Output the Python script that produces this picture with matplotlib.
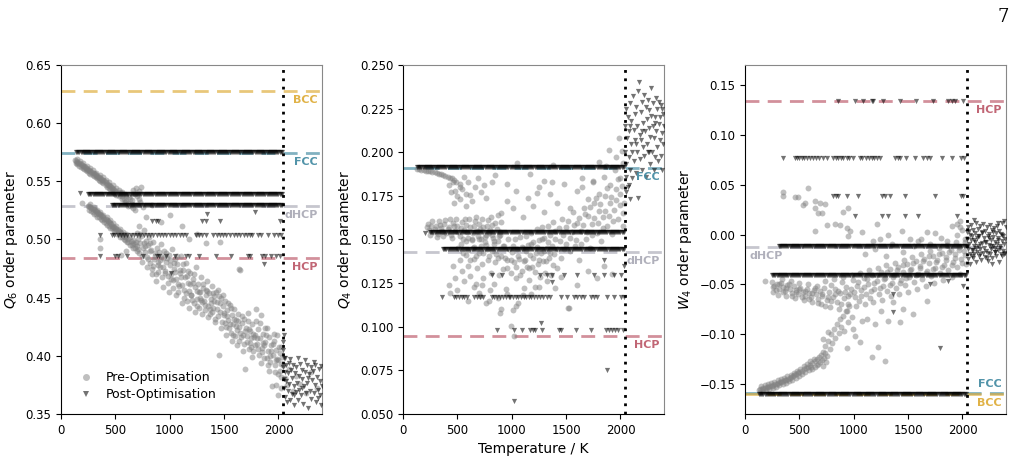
import matplotlib
matplotlib.use("Agg")
import matplotlib.pyplot as plt
from matplotlib.lines import Line2D

# ---------------- DATA ----------------
T_MELT = 2040

# common temperature grid for densely populated post-optimisation bands
t_grid = [130, 140, 150, 160, 170, 180, 190, 200, 210, 220, 230, 240, 250, 260, 270, 280, 290,
          300, 310, 320, 330, 340, 350, 360, 370, 380, 390, 400, 410, 420, 430, 440, 450, 460,
          470, 480, 490, 500, 510, 520, 530, 540, 550, 560, 570, 580, 590, 600, 610, 620, 630,
          640, 650, 660, 670, 680, 690, 700, 710, 720, 730, 740, 750, 760, 770, 780, 790, 800,
          810, 820, 830, 840, 850, 860, 870, 880, 890, 900, 910, 920, 930, 940, 950, 960, 970,
          980, 990, 1000, 1010, 1020, 1030, 1040, 1050, 1060, 1070, 1080, 1090, 1100, 1110,
          1120, 1130, 1140, 1150, 1160, 1170, 1180, 1190, 1200, 1210, 1220, 1230, 1240, 1250,
          1260, 1270, 1280, 1290, 1300, 1310, 1320, 1330, 1340, 1350, 1360, 1370, 1380, 1390,
          1400, 1410, 1420, 1430, 1440, 1450, 1460, 1470, 1480, 1490, 1500, 1510, 1520, 1530,
          1540, 1550, 1560, 1570, 1580, 1590, 1600, 1610, 1620, 1630, 1640, 1650, 1660, 1670,
          1680, 1690, 1700, 1710, 1720, 1730, 1740, 1750, 1760, 1770, 1780, 1790, 1800, 1810,
          1820, 1830, 1840, 1850, 1860, 1870, 1880, 1890, 1900, 1910, 1920, 1930, 1940, 1950,
          1960, 1970, 1980, 1990, 2000, 2010, 2020, 2030]

# ---- Q6 ----
q6_ref = {"BCC": 0.628, "FCC": 0.5745, "dHCP": 0.529, "HCP": 0.4845}
q6_dense_bands = [(0.5755, 140), (0.539, 250), (0.530, 470)]  # (level, first temperature)
q6_band_504_T = [357, 466, 490, 520, 550, 580, 610, 640, 670, 700, 724, 760, 790, 820, 850, 880,
                 910, 940, 970, 1000, 1030, 1060, 1090, 1120, 1150, 1240, 1270, 1300, 1335, 1400,
                 1430, 1460, 1490, 1520, 1550, 1590, 1620, 1650, 1680, 1710, 1740, 1760, 1810,
                 1840, 1900, 1960, 2000, 2025]
q6_band_486_T = [357, 495, 520, 604, 751, 879, 900, 970, 1045, 1153, 1180, 1273, 1427, 1566, 1715,
                 1740, 1850, 1880, 1930, 1978, 2010]
q6_post_misc = [(174, 0.540), (833, 0.5155), (870, 0.5155), (890, 0.5155), (1300, 0.5155),
                (1330, 0.5155), (1460, 0.5155), (1340, 0.522), (1780, 0.524), (2010, 0.5155),
                (1868, 0.479), (1015, 0.471)]
q6_post_liquid = [(2040, .412), (2045, .405), (2050, .418), (2055, .398), (2042, .390), (2048, .380),
                  (2052, .372), (2058, .386), (2062, .365), (2068, .392), (2072, .378), (2078, .360),
                  (2085, .385), (2090, .370), (2095, .394), (2100, .376), (2108, .362), (2115, .388),
                  (2120, .381), (2125, .367), (2132, .392), (2138, .374), (2145, .358), (2150, .385),
                  (2158, .369), (2165, .390), (2170, .377), (2178, .362), (2185, .383), (2190, .371),
                  (2198, .393), (2205, .366), (2212, .380), (2220, .388), (2228, .359), (2235, .374),
                  (2242, .386), (2250, .368), (2258, .392), (2265, .377), (2272, .355), (2280, .384),
                  (2288, .370), (2295, .390), (2302, .363), (2310, .379), (2318, .387), (2325, .368),
                  (2332, .375), (2340, .392), (2348, .360), (2355, .382), (2362, .371), (2370, .389),
                  (2378, .366), (2385, .378), (2392, .358), (2398, .374), (2060, .398), (2110, .397),
                  (2180, .398), (2240, .396), (2330, .395), (2390, .391), (2140, .366), (2215, .372),
                  (2275, .381), (2360, .364)]
q6_pre_upper = [(130, .568), (140, .5675), (150, .567), (160, .566), (170, .5655), (180, .565),
                (190, .564), (200, .5635), (210, .563), (220, .562), (230, .5615), (240, .561),
                (250, .560), (260, .5595), (270, .559), (280, .558), (290, .5575), (300, .557),
                (310, .556), (320, .5555), (330, .555), (340, .554), (350, .5535), (360, .553),
                (370, .552), (380, .5515), (390, .551), (400, .550), (410, .549), (420, .548),
                (430, .547), (440, .5465), (450, .546), (460, .545), (470, .544), (480, .543),
                (490, .5425), (500, .542), (520, .540), (540, .5385), (560, .537), (580, .535),
                (600, .533), (620, .531), (640, .529), (660, .527), (680, .525),
                (150, .5645), (180, .5625), (210, .561), (240, .5585), (270, .5565), (300, .5545),
                (330, .5525), (360, .5505), (390, .5485), (420, .5455), (450, .5435), (480, .5405),
                (510, .5385), (540, .541), (570, .5395), (600, .5375), (630, .535), (660, .5425),
                (690, .5445), (720, .5415), (700, .537), (730, .532), (750, .528),
                (140, .5655), (170, .5635), (200, .5615), (230, .5595), (260, .5575), (290, .5555),
                (320, .5535), (350, .5515), (380, .549), (410, .547), (440, .5445), (470, .542),
                (500, .5395), (530, .537), (560, .5345), (590, .532), (620, .5285), (650, .5305),
                (145, .5695), (175, .5675), (205, .5655), (235, .5635), (265, .5615), (295, .5595),
                (325, .5575), (355, .5555), (385, .5535), (415, .5515), (445, .549), (475, .547),
                (505, .5445), (535, .5425), (565, .5405), (595, .5385), (625, .5365), (655, .534),
                (685, .5395), (715, .5345), (740, .545)]
q6_pre_lower = [(250, .529), (260, .5285), (270, .528), (280, .527), (290, .5265), (300, .526),
                (310, .525), (320, .5245), (330, .524), (340, .523), (350, .522), (360, .5215),
                (370, .521), (380, .520), (390, .519), (400, .518), (410, .5175), (420, .517),
                (430, .516), (440, .515), (450, .514), (460, .513), (470, .512), (480, .511),
                (490, .5105), (500, .510), (510, .509), (520, .508), (530, .507), (540, .5065),
                (550, .506), (560, .505), (570, .504), (580, .503), (590, .5025), (600, .502),
                (620, .500), (640, .499), (660, .497), (680, .496), (700, .494),
                (260, .5255), (290, .5235), (320, .5215), (350, .519), (380, .517), (410, .5145),
                (440, .512), (470, .5095), (500, .507), (530, .5045), (560, .502), (590, .4995),
                (620, .4975), (650, .495), (680, .493), (190, .531), (360, .500), (355, .493),
                (550, .487), (600, .490),
                (270, .5305), (300, .528), (330, .5255), (360, .5235), (390, .521), (420, .519),
                (450, .5165), (480, .514), (510, .5115), (540, .509), (570, .5065), (600, .5045),
                (630, .502), (660, .4995), (690, .4975), (275, .5245), (305, .522), (335, .5195),
                (365, .5175), (395, .515), (425, .5125), (455, .510), (485, .5075), (515, .505),
                (545, .5025), (575, .500), (605, .4975), (635, .495), (665, .4925), (695, .490)]
q6_pre_cloud = [(700, .506), (710, .500), (720, .512), (730, .497), (740, .503), (750, .493),
                (760, .508), (770, .489), (780, .499), (790, .485), (800, .495), (810, .502),
                (820, .480), (830, .491), (840, .475), (850, .498), (860, .486), (870, .470),
                (880, .493), (890, .481), (900, .489), (910, .476), (920, .496), (930, .468),
                (940, .484), (950, .490), (960, .473), (970, .481), (980, .463), (990, .487),
                (1000, .478), (1010, .470), (1020, .492), (1030, .458), (1040, .475), (1050, .483),
                (1060, .466), (1070, .479), (1080, .455), (1090, .471), (1100, .486), (1110, .461),
                (1120, .474), (1130, .450), (1140, .468), (1150, .480), (1160, .447), (1170, .463),
                (1180, .456), (1190, .471), (1200, .452), (1210, .466), (1220, .445), (1230, .459),
                (1240, .476), (1250, .449), (1260, .462), (1270, .441), (1280, .455), (1290, .468),
                (1300, .446), (1310, .458), (1320, .439), (1330, .452), (1340, .464), (1350, .443),
                (1360, .454), (1370, .436), (1380, .449), (1390, .460), (1400, .441), (1410, .451),
                (1420, .432), (1430, .446), (1440, .457), (1450, .401), (1460, .438), (1470, .450),
                (1480, .429), (1490, .443), (1500, .435), (1510, .447), (1520, .425), (1530, .439),
                (1540, .431), (1550, .444), (1560, .420), (1570, .435), (1580, .427), (1590, .440),
                (1600, .417), (1610, .431), (1620, .422), (1630, .436), (1640, .413), (1650, .474),
                (1660, .428), (1670, .418), (1680, .432), (1690, .389), (1700, .424), (1710, .412),
                (1720, .430), (1730, .406), (1740, .421), (1750, .415), (1760, .427), (1770, .404),
                (1780, .418), (1790, .440), (1800, .410), (1810, .423), (1820, .401), (1830, .415),
                (1840, .435), (1850, .407), (1860, .419), (1870, .398), (1880, .412), (1890, .424),
                (1900, .404), (1910, .416), (1920, .395), (1930, .409), (1940, .374), (1950, .401),
                (1960, .413), (1970, .392), (1980, .405), (1990, .418), (2000, .396), (2010, .387),
                (2020, .408), (2030, .399),
                (720, .488), (745, .481), (765, .497), (790, .476), (815, .490), (835, .470),
                (855, .483), (875, .464), (895, .478), (915, .486), (935, .459), (955, .471),
                (975, .484), (995, .455), (1015, .466), (1035, .480), (1055, .452), (1075, .462),
                (1095, .474), (1115, .445), (1135, .457), (1155, .469), (1175, .441), (1195, .452),
                (1215, .463), (1235, .438), (1255, .456), (1275, .450), (1295, .436), (1315, .447),
                (1335, .457), (1355, .433), (1375, .445), (1395, .454), (1415, .429), (1435, .440),
                (1455, .451), (1475, .424), (1495, .437), (1515, .418), (1535, .445), (1555, .427),
                (1575, .413), (1595, .432), (1615, .409), (1635, .425), (1655, .416), (1675, .404),
                (1695, .421), (1715, .437), (1735, .411), (1755, .399), (1775, .416), (1795, .430),
                (1815, .406), (1835, .394), (1855, .411), (1875, .424), (1895, .398), (1915, .387),
                (1935, .404), (1955, .419), (1975, .396), (1995, .384), (2015, .402), (2025, .393),
                (840, .530), (1000, .521), (1110, .512), (1250, .505), (1335, .497), (1460, .498),
                (1640, .475), (920, .515), (1180, .500), (780, .519),
                (705, .492), (725, .505), (748, .486), (772, .494), (798, .483), (822, .497),
                (846, .477), (868, .488), (892, .472), (912, .482), (938, .476), (962, .488),
                (984, .469), (1006, .482), (1028, .465), (1046, .472), (1068, .486), (1088, .460),
                (1106, .468), (1126, .479), (1146, .454), (1166, .473), (1186, .462), (1206, .448),
                (1226, .470), (1246, .443), (1266, .455), (1286, .448), (1306, .462), (1326, .444),
                (1346, .456), (1366, .440), (1386, .438), (1406, .447), (1426, .455), (1446, .434),
                (1466, .445), (1486, .452), (1506, .428), (1526, .434), (1546, .424), (1566, .441),
                (1586, .418), (1606, .426), (1626, .430), (1646, .420), (1666, .434), (1686, .410),
                (1706, .417), (1726, .423), (1746, .408), (1766, .419), (1786, .409), (1806, .415),
                (1826, .428), (1846, .403), (1866, .409), (1886, .418), (1906, .392), (1926, .400),
                (1946, .410), (1966, .386), (1986, .397), (2006, .408), (2026, .382), (1980, .375),
                (2020, .372), (2000, .366)]
q6_pre_liquid = [(2045, .392), (2060, .381), (2080, .375), (2100, .389), (2130, .370), (2160, .383),
                 (2200, .376), (2250, .368), (2300, .386), (2350, .372)]

# ---- Q4 ----
q4_ref = {"FCC": 0.191, "dHCP": 0.143, "HCP": 0.0945}
q4_dense_bands = [(0.1915, 130), (0.1545, 250), (0.1445, 370)]
q4_band_130_T = [818, 910, 1264, 1326, 1372, 1480, 1603, 1757, 1850, 1942, 2004]
q4_band_117_T = [357, 465, 490, 515, 540, 565, 586, 650, 680, 710, 740, 817, 840, 865, 890, 915,
                 945, 971, 987, 1010, 1035, 1060, 1085, 1110, 1135, 1160, 1180, 1202, 1233, 1260,
                 1290, 1320, 1356, 1449, 1511, 1572, 1600, 1635, 1665, 1727, 1760, 1788, 1880,
                 1942, 2004, 2030]
q4_band_098_T = [865, 1017, 1095, 1172, 1195, 1218, 1280, 1434, 1450, 1588, 1727, 1866, 1890,
                 1920, 1950, 1973, 2020]
q4_post_misc = [(200, 0.1535), (1372, 0.1256), (1850, 0.138), (2030, 0.135), (1272, 0.102),
                (1880, 0.0752), (1017, 0.0575)]
q4_post_liquid = [(2040, .215), (2045, .200), (2048, .186), (2050, .225), (2055, .193), (2060, .208),
                  (2065, .180), (2070, .220), (2075, .197), (2080, .212), (2085, .228), (2090, .190),
                  (2095, .205), (2100, .218), (2105, .185), (2110, .200), (2115, .232), (2120, .213),
                  (2125, .195), (2130, .222), (2135, .207), (2140, .188), (2145, .226), (2150, .215),
                  (2155, .200), (2160, .174), (2165, .235), (2170, .240), (2175, .210), (2180, .196),
                  (2185, .223), (2190, .207), (2195, .229), (2200, .190), (2205, .217), (2210, .203),
                  (2215, .233), (2220, .198), (2225, .212), (2230, .226), (2235, .186), (2240, .219),
                  (2245, .205), (2250, .230), (2255, .200), (2260, .214), (2265, .224), (2270, .193),
                  (2275, .209), (2280, .221), (2285, .237), (2290, .200), (2295, .215), (2300, .228),
                  (2305, .190), (2310, .208), (2315, .220), (2320, .197), (2325, .231), (2330, .212),
                  (2335, .203), (2340, .225), (2345, .195), (2350, .216), (2355, .229), (2360, .207),
                  (2365, .220), (2370, .198), (2375, .227), (2380, .211), (2385, .190), (2390, .222),
                  (2395, .205), (2398, .215), (2090, .215), (2140, .205), (2200, .212), (2260, .200),
                  (2320, .217), (2380, .225), (2055, .177), (2075, .181), (2085, .173)]
q4_pre_upper = [(130, .1905), (150, .1903), (170, .1900), (190, .1898), (210, .1895), (230, .1893),
                (250, .1890), (270, .1888), (290, .1885), (310, .1880), (330, .1878), (350, .1875),
                (370, .1870), (390, .1865), (410, .1860), (430, .1855), (450, .1850), (470, .1840),
                (490, .1830), (420, .181), (440, .177), (460, .183), (480, .178), (500, .175),
                (520, .182), (540, .179), (560, .186), (580, .176), (600, .183), (630, .172),
                (660, .180), (690, .185), (720, .177), (760, .174), (520, .173), (580, .169),
                (470, .171), (524, .180), (617, .1755), (743, .181), (815, .183), (955, .182),
                (1048, .194), (850, .187)]
q4_pre_lower = [(220, .157), (240, .1555), (260, .158), (280, .1545), (300, .1575), (320, .153),
                (340, .1585), (360, .155), (380, .159), (400, .1535), (420, .157), (440, .1525),
                (460, .1595), (480, .155), (500, .158), (520, .152), (540, .160), (560, .1555),
                (580, .1585), (600, .151), (620, .157), (640, .1535), (660, .1605), (680, .155),
                (700, .159), (720, .150), (740, .157), (760, .1525), (780, .161), (800, .1555),
                (820, .1585), (840, .149), (860, .156), (880, .152), (900, .160),
                (230, .159), (250, .1525), (270, .1605), (290, .156), (310, .1515), (330, .1605),
                (350, .1565), (370, .152), (390, .161), (410, .156), (430, .1615), (450, .151),
                (470, .1575), (490, .162), (510, .1545), (530, .1565), (550, .1505), (570, .162),
                (590, .1545), (610, .1615), (630, .1495), (650, .158), (670, .163), (690, .152),
                (710, .156), (730, .162), (750, .1485), (770, .158), (790, .1535), (810, .163),
                (830, .151), (850, .1595), (870, .164), (890, .1545)]
q4_pre_cloud = [(420, .124), (430, .1195), (460, .135), (480, .128), (500, .121), (520, .138),
                (540, .132), (560, .126), (580, .141), (600, .135), (620, .129), (640, .145),
                (650, .139), (670, .1245), (680, .1335), (700, .142), (710, .1175), (730, .136),
                (740, .128), (760, .147), (780, .1385), (790, .1145), (810, .131), (820, .1435),
                (840, .1245), (850, .137), (870, .149), (880, .1295), (890, .108), (900, .1405),
                (920, .133), (930, .146), (950, .1215), (960, .138), (970, .1505), (990, .131),
                (1000, .143), (1010, .1095), (1020, .137), (1030, .1505), (1040, .128), (1050, .1445),
                (1060, .1135), (1070, .139), (1080, .1515), (1090, .132), (1100, .145), (1110, .122),
                (1120, .1385), (1130, .152), (1140, .134), (1150, .147), (1160, .1265), (1170, .141),
                (1180, .154), (1190, .1345), (1200, .1485), (1210, .123), (1220, .142), (1230, .156),
                (1240, .136), (1250, .1495), (1260, .1285), (1270, .1425), (1280, .157), (1290, .1375),
                (1300, .151), (1310, .131), (1320, .145), (1330, .158), (1340, .1395), (1350, .1525),
                (1360, .1295), (1370, .1465), (1380, .160), (1390, .1415), (1400, .155), (1420, .1335),
                (1440, .149), (1460, .162), (1480, .1445), (1500, .157), (1520, .1105), (1540, .151),
                (1560, .1655), (1580, .1465), (1600, .1595), (1620, .1385), (1640, .155), (1660, .168),
                (1680, .1505), (1700, .1635), (1720, .145), (1740, .159), (1760, .171), (1780, .154),
                (1800, .1665), (1820, .149), (1840, .163), (1860, .175), (1880, .158), (1900, .171),
                (1920, .153), (1940, .167), (1960, .179), (1980, .162), (2000, .176), (2020, .1575),
                (2030, .171),
                (900, .165), (960, .172), (1010, .168), (1040, .178), (1100, .163), (1150, .174),
                (1200, .169), (1250, .180), (1300, .166), (1350, .176), (1420, .171), (1480, .182),
                (1540, .168), (1600, .178), (1650, .185), (1700, .173), (1750, .183), (1800, .176),
                (1850, .186), (1900, .181), (1950, .190), (2000, .185), (1870, .192), (1960, .197),
                (2010, .201), (1990, .208), (2020, .194), (1805, .1945), (1893, .2013), (1650, .180),
                (1745, .1835), (1170, .1876), (1233, .1765), (1295, .1835), (1372, .183), (1380, .1926),
                (600, .115), (650, .1225), (700, .1195), (730, .124), (760, .1135), (800, .121),
                (870, .1165), (900, .110), (960, .119), (995, .1005), (1020, .0948), (1040, .112),
                (1100, .118), (1180, .1185), (1250, .1225), (1320, .126), (1400, .122), (1450, .1285),
                (1530, .111), (1600, .124), (1700, .132), (1780, .128), (1850, .135), (1920, .1305),
                (510, .145), (530, .1475), (555, .1425), (575, .149), (595, .144), (615, .1385),
                (635, .1505), (655, .1455), (675, .1405), (695, .1505), (715, .1465), (735, .1425),
                (755, .1515), (775, .1445), (795, .1405), (815, .1525), (835, .1475), (855, .1415),
                (875, .1395), (895, .1525), (915, .1465), (935, .1395), (955, .1335), (975, .1445),
                (995, .1385), (1015, .1465), (1035, .1345), (1055, .1405), (1075, .1295), (1095, .1455),
                (1115, .1375), (1135, .1435), (1155, .1335), (1175, .1475), (1195, .1395), (1215, .1315),
                (1235, .1455), (1255, .1385), (1275, .1505), (1295, .1435), (1315, .1375), (1335, .1485),
                (1355, .1425), (1375, .1355), (1395, .1505), (1415, .1445), (1435, .1565), (1455, .1395),
                (1475, .1525), (1495, .1475), (1515, .1605), (1535, .1435), (1555, .1545), (1575, .1585),
                (1595, .1495), (1615, .1625), (1635, .1475), (1655, .1585), (1675, .1645), (1695, .1545),
                (1715, .1685), (1735, .1525), (1755, .1625), (1775, .1735), (1795, .1595), (1815, .1705),
                (1835, .1565), (1855, .1665), (1875, .1795), (1895, .1635), (1915, .1745), (1935, .1605),
                (1955, .1725), (1975, .1845), (1995, .1695), (2015, .1805), (2025, .165)]

# ---- W4 ----
w4_ref = {"HCP": 0.134, "dHCP": -0.0125, "FCC": -0.159, "BCC": -0.1595}
w4_dense_bands = [(-0.0117, 310), (-0.041, 245), (-0.160, 130)]
w4_band_134_T = [857, 1011, 1087, 1164, 1179, 1271, 1424, 1577, 1730, 1868, 1899, 1929, 2006]
w4_band_076_T = [352, 459, 480, 500, 525, 545, 570, 600, 628, 650, 680, 720, 750, 811, 835, 857,
                 880, 905, 934, 960, 995, 1056, 1080, 1110, 1140, 1164, 1190, 1215, 1240, 1378,
                 1410, 1424, 1485, 1562, 1638, 1670, 1700, 1807, 1899, 1990, 2010]
w4_band_038_T = [811, 840, 857, 934, 1041, 1256, 1290, 1332, 1470, 1745, 1990, 2006]
w4_band_018_T = [1011, 1256, 1317, 1470, 1592, 1945]
w4_post_misc = [(1868, -0.0467), (1363, -0.060), (1363, -0.078), (1791, -0.114), (1700, -0.050),
                (2006, -0.052)]
w4_post_liquid = [(2040, -.005), (2045, .003), (2048, -.015), (2052, -.025), (2055, .008), (2060, -.010),
                  (2065, -.020), (2068, .000), (2072, -.030), (2076, -.006), (2080, .010), (2085, -.016),
                  (2090, -.002), (2094, -.024), (2098, .005), (2102, -.012), (2108, -.020), (2112, .002),
                  (2116, -.008), (2120, -.028), (2125, .012), (2130, -.004), (2135, -.018), (2140, .006),
                  (2145, -.012), (2150, -.022), (2155, -.001), (2160, .009), (2165, -.015), (2170, -.026),
                  (2175, .003), (2180, -.009), (2185, -.019), (2190, .011), (2195, -.004), (2200, -.014),
                  (2205, -.023), (2210, .004), (2215, -.008), (2220, -.017), (2225, .008), (2230, -.002),
                  (2235, -.027), (2240, -.011), (2245, .001), (2250, -.020), (2255, .010), (2260, -.006),
                  (2265, -.015), (2270, .005), (2275, -.024), (2280, -.003), (2285, -.012), (2290, .007),
                  (2295, -.018), (2300, -.008), (2305, .002), (2310, -.022), (2315, -.010), (2320, .009),
                  (2325, -.016), (2330, -.004), (2335, -.028), (2340, .004), (2345, -.012), (2350, -.020),
                  (2355, .001), (2360, -.007), (2365, .012), (2370, -.017), (2375, -.002), (2380, -.010),
                  (2385, .014), (2390, -.005), (2395, -.019), (2398, .008), (2100, -.016), (2160, -.010),
                  (2230, -.019), (2300, -.014), (2360, -.022), (2110, .015), (2270, -.030), (2330, .012),
                  (2043, -.012), (2063, .004), (2083, -.022), (2103, -.006), (2123, -.014), (2143, -.002),
                  (2163, -.020), (2183, .002), (2203, -.008), (2223, -.024), (2243, -.004), (2263, -.012),
                  (2283, .003), (2303, -.018), (2323, -.006), (2343, -.014), (2363, .000), (2383, -.020)]
w4_pre_lower = [(125, -.1555), (140, -.155), (155, -.1545), (170, -.154), (185, -.1535), (200, -.153),
                (215, -.1525), (230, -.152), (245, -.1515), (260, -.151), (275, -.150), (290, -.1495),
                (305, -.149), (320, -.148), (335, -.1475), (350, -.147), (365, -.146), (380, -.1455),
                (395, -.145), (410, -.144), (425, -.143), (440, -.142), (455, -.141), (470, -.140),
                (485, -.139), (500, -.138), (520, -.137), (540, -.135), (560, -.134), (580, -.1325),
                (600, -.131), (620, -.129), (640, -.127), (660, -.125), (680, -.123), (700, -.121),
                (150, -.152), (180, -.151), (210, -.150), (240, -.149), (270, -.1475), (300, -.146),
                (330, -.145), (360, -.1435), (390, -.142), (420, -.1405), (450, -.139), (480, -.137),
                (510, -.1345), (540, -.132), (570, -.1295), (600, -.127), (630, -.1245), (660, -.1305),
                (690, -.128), (720, -.132), (610, -.133),
                (135, -.1575), (165, -.1565), (195, -.1555), (225, -.1545), (255, -.1535), (285, -.1525),
                (315, -.151), (345, -.150), (375, -.1485), (405, -.147), (435, -.1455), (465, -.1435),
                (495, -.1415), (525, -.140), (555, -.1375), (585, -.136), (615, -.1345), (645, -.1325),
                (675, -.130), (705, -.126), (725, -.124), (745, -.128), (735, -.119),
                (720, -.118), (740, -.112), (750, -.122), (760, -.107), (780, -.115), (790, -.100),
                (800, -.109), (820, -.095), (830, -.104), (850, -.090), (860, -.099), (870, -.085),
                (880, -.093), (900, -.082), (910, -.097), (930, -.077), (950, -.088), (960, -.072),
                (980, -.083), (995, -.095), (1011, -.102), (1056, -.108), (1118, -.085), (1164, -.123),
                (1225, -.113), (1287, -.127), (934, -.114), (1317, -.087), (1424, -.088), (1547, -.080),
                (1669, -.0667), (1080, -.087), (1200, -.090), (1250, -.077), (1360, -.068),
                (1450, -.075), (720, -.105), (766, -.0977)]
w4_pre_upper = [(250, -.048), (270, -.052), (290, -.050), (310, -.055), (330, -.049), (350, -.053),
                (370, -.057), (390, -.051), (410, -.055), (430, -.059), (450, -.052), (470, -.056),
                (490, -.060), (510, -.054), (530, -.058), (550, -.062), (570, -.055), (590, -.059),
                (610, -.063), (630, -.056), (650, -.060), (670, -.065), (690, -.057), (710, -.062),
                (730, -.054), (750, -.066), (770, -.058), (790, -.051), (810, -.063), (830, -.055),
                (850, -.068), (870, -.059), (890, -.048), (910, -.064), (930, -.053), (950, -.070),
                (970, -.060), (990, -.046), (1010, -.063), (1030, -.052), (1050, -.067), (1070, -.056),
                (1090, -.044), (1110, -.060), (1130, -.050), (1150, -.064), (1170, -.041), (1190, -.055),
                (1210, -.047), (1230, -.060), (1250, -.038), (1270, -.052), (1290, -.044), (1310, -.057),
                (1330, -.035), (1350, -.049), (1370, -.041), (1390, -.054), (1410, -.033), (1430, -.046),
                (1450, -.038), (1470, -.051), (1490, -.030), (1510, -.043), (1530, -.035), (1550, -.048),
                (1570, -.027), (1590, -.040), (1610, -.032), (1630, -.045), (1650, -.025), (1670, -.037),
                (1690, -.029), (1710, -.042), (1730, -.022), (1750, -.034), (1770, -.026), (1790, -.039),
                (1810, -.019), (1830, -.031), (1850, -.023), (1870, -.036), (1890, -.016), (1910, -.028),
                (1930, -.020), (1950, -.033), (1970, -.013), (1990, -.025), (2010, -.017), (2030, -.030),
                (260, -.058), (300, -.061), (340, -.045), (380, -.062), (420, -.047), (460, -.064),
                (500, -.049), (540, -.066), (580, -.050), (620, -.068), (660, -.052), (700, -.070),
                (740, -.047), (780, -.073), (820, -.045), (860, -.075), (900, -.043), (940, -.077),
                (980, -.041), (1020, -.072), (1060, -.039), (1100, -.070), (1140, -.036), (1180, -.068),
                (1220, -.034), (1260, -.066), (1300, -.031), (1340, -.062), (1380, -.029), (1420, -.060),
                (1460, -.026), (1500, -.058), (1540, -.023), (1580, -.055), (1620, -.020), (1660, -.052),
                (1700, -.017), (1740, -.049), (1780, -.014), (1820, -.046), (1860, -.011), (1900, -.043),
                (1940, -.008), (1980, -.040), (2020, -.005), (184, -.047),
                (255, -.053), (285, -.056), (315, -.050), (345, -.058), (375, -.054), (405, -.050),
                (435, -.062), (465, -.058), (495, -.055), (525, -.063), (555, -.057), (585, -.065),
                (615, -.059), (645, -.054), (675, -.069), (705, -.060), (735, -.072), (765, -.063),
                (795, -.067), (825, -.060), (855, -.057), (885, -.070), (915, -.058), (945, -.062),
                (975, -.055), (1005, -.058), (1035, -.048), (1065, -.062), (1095, -.053), (1125, -.045),
                (1155, -.057), (1185, -.049), (1215, -.041), (1245, -.054), (1275, -.045), (1305, -.038),
                (1335, -.051), (1365, -.043), (1395, -.036), (1425, -.049), (1455, -.031), (1485, -.044),
                (1515, -.036), (1545, -.029), (1575, -.041), (1605, -.034), (1635, -.027), (1665, -.039),
                (1695, -.022), (1725, -.035), (1755, -.028), (1785, -.020), (1815, -.033), (1845, -.026),
                (1875, -.018), (1905, -.031), (1935, -.024), (1965, -.016), (1995, -.029), (2025, -.021)]
w4_pre_high = [(352, .043), (352, .0383), (459, .038), (490, .038), (582, .0467), (551, .032),
               (536, .030), (643, .0333), (689, .032), (643, .027), (674, .0217), (704, .022),
               (735, .031), (643, .0033), (750, .0097), (827, .011), (873, .0097), (904, .0227),
               (950, .027), (934, .0067), (965, .0033), (1072, .0023), (950, -.0017), (1210, .011),
               (1317, .000), (1179, -.0067), (1240, -.005), (1440, .0033), (1516, -.005), (1592, -.0067),
               (1669, .0023), (1745, .0017), (1899, .0083), (1945, .011), (1975, .0133), (1853, -.0067),
               (1100, -.020), (1200, -.015), (1300, -.022), (1350, -.010), (1450, -.018), (1550, -.012),
               (1620, -.005), (1700, -.010), (1800, -.004), (1880, -.012), (1950, .000), (2000, .005),
               (2020, -.008), (1980, .008)]

# ---------------- STYLE ----------------
REF_COLORS = {"BCC": "#DDAA33", "FCC": "#3F88A0", "dHCP": "#A8A8B4", "HCP": "#BB5566"}
PRE_KW = dict(marker="o", s=18, color="grey", alpha=0.5, linewidths=0)
POST_KW = dict(marker="v", s=14, color="black", alpha=0.55, linewidths=0)

plt.rcParams["font.family"] = ["DejaVu Sans"]
fig = plt.figure(figsize=(10.2, 4.61), dpi=100)
axes = [fig.add_axes([61 / 1020, 0.102, 261 / 1020, 0.757]),
        fig.add_axes([403 / 1020, 0.102, 261 / 1020, 0.757]),
        fig.add_axes([745 / 1020, 0.102, 261 / 1020, 0.757])]


def unzip(pairs):
    return [p[0] for p in pairs], [p[1] for p in pairs]


def draw_panel(ax, pre_sets, dense_bands, sparse_bands, post_sets):
    for pairs in pre_sets:
        x, y = unzip(pairs)
        ax.scatter(x, y, zorder=2, **PRE_KW)
    for level, start in dense_bands:
        xs = [t for t in t_grid if t >= start]
        ax.scatter(xs, [level] * len(xs), zorder=3, **POST_KW)
    for level, ts in sparse_bands:
        ax.scatter(ts, [level] * len(ts), zorder=3, **POST_KW)
    for pairs in post_sets:
        x, y = unzip(pairs)
        ax.scatter(x, y, zorder=3, **POST_KW)
    ax.axvline(T_MELT, color="black", linestyle=(0, (1, 2)), lw=2, zorder=4)
    ax.set_xlim(0, 2400)
    ax.set_xticks([0, 500, 1000, 1500, 2000])
    for side in ("top", "right"):
        ax.spines[side].set_color("#888888")
    ax.tick_params(labelsize=8.5)


def ref_line(ax, name, value, above=False, left=False):
    c = REF_COLORS[name]
    ax.axhline(value, color=c, linestyle=(0, (5, 3)), lw=2, alpha=0.65, zorder=1)
    if left:
        ax.annotate(name, xy=(0, value), xycoords=("axes fraction", "data"),
                    xytext=(3, -3), textcoords="offset points", ha="left", va="top",
                    fontsize=8, fontweight="bold", color=c, alpha=0.9)
    else:
        ax.annotate(name, xy=(1, value), xycoords=("axes fraction", "data"),
                    xytext=(-3, 3 if above else -3), textcoords="offset points", ha="right",
                    va="bottom" if above else "top",
                    fontsize=8, fontweight="bold", color=c, alpha=0.9)


# Panel 1 : Q6
ax = axes[0]
draw_panel(ax, [q6_pre_upper, q6_pre_lower, q6_pre_cloud, q6_pre_liquid], q6_dense_bands,
           [(0.504, q6_band_504_T), (0.486, q6_band_486_T)], [q6_post_misc, q6_post_liquid])
for name, v in q6_ref.items():
    ref_line(ax, name, v)
ax.set_ylim(0.35, 0.65)
ax.set_yticks([0.35, 0.40, 0.45, 0.50, 0.55, 0.60, 0.65])
ax.set_ylabel("$Q_6$ order parameter", fontsize=10)
handles = [Line2D([], [], marker="o", color="grey", alpha=0.5, linestyle="none", markersize=5,
                  markeredgewidth=0),
           Line2D([], [], marker="v", color="black", alpha=0.55, linestyle="none", markersize=5,
                  markeredgewidth=0)]
ax.legend(handles, ["Pre-Optimisation", "Post-Optimisation"], loc="lower left", frameon=False,
          fontsize=9, handletextpad=0.6, borderaxespad=0.6, labelspacing=0.35)

# Panel 2 : Q4
ax = axes[1]
draw_panel(ax, [q4_pre_upper, q4_pre_lower, q4_pre_cloud], q4_dense_bands,
           [(0.1297, q4_band_130_T), (0.1169, q4_band_117_T), (0.0982, q4_band_098_T)],
           [q4_post_misc, q4_post_liquid])
for name, v in q4_ref.items():
    ref_line(ax, name, v)
ax.set_ylim(0.05, 0.25)
ax.set_yticks([0.050, 0.075, 0.100, 0.125, 0.150, 0.175, 0.200, 0.225, 0.250])
ax.set_ylabel("$Q_4$ order parameter", fontsize=10)
ax.set_xlabel("Temperature / K", fontsize=10)

# Panel 3 : W4
ax = axes[2]
draw_panel(ax, [w4_pre_lower, w4_pre_upper, w4_pre_high], w4_dense_bands,
           [(0.134, w4_band_134_T), (0.0767, w4_band_076_T), (0.0383, w4_band_038_T),
            (0.0183, w4_band_018_T)], [w4_post_misc, w4_post_liquid])
ref_line(ax, "HCP", w4_ref["HCP"])
ref_line(ax, "dHCP", w4_ref["dHCP"], left=True)
ref_line(ax, "FCC", w4_ref["FCC"], above=True)
ref_line(ax, "BCC", w4_ref["BCC"])
ax.set_ylim(-0.18, 0.17)
ax.set_yticks([-0.15, -0.10, -0.05, 0.00, 0.05, 0.10, 0.15])
ax.set_ylabel("$W_4$ order parameter", fontsize=10)

fig.text(1003 / 1020, 1 - 17 / 461, "7", fontsize=13, family="DejaVu Serif",
         ha="center", va="center")

fig.savefig("out.png", dpi=100)
